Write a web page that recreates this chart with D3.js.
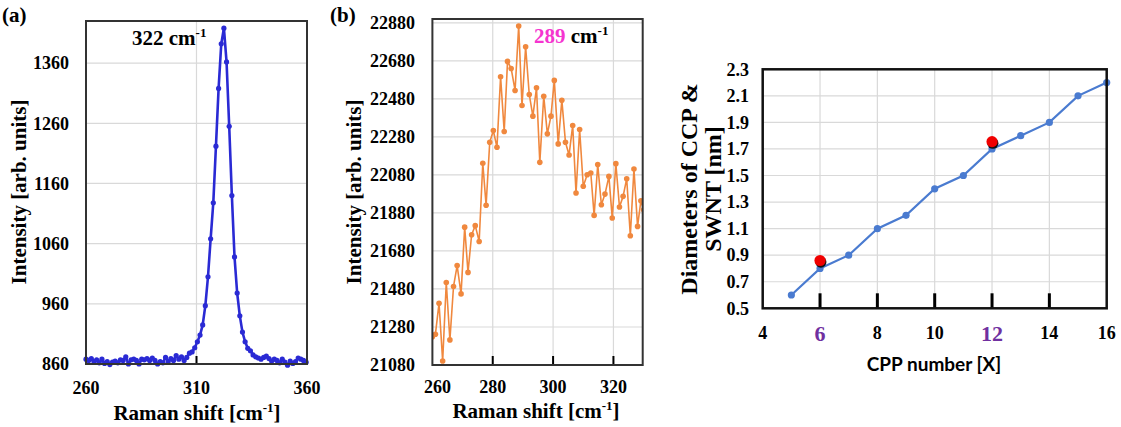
<!DOCTYPE html>
<html><head><meta charset="utf-8">
<script src="https://cdn.jsdelivr.net/npm/d3@7"></script>
<style>body{margin:0;background:#fff}svg{display:block}</style>
</head><body>
<svg id="c" width="1121" height="427"></svg>
<script>
// ---------- Panel (a) data ----------
const shiftA = [260.0,261.2,262.4,263.6,264.8,266.0,267.2,268.4,269.6,270.8,272.0,273.2,274.4,275.6,276.8,278.0,279.2,280.4,281.6,282.8,284.0,285.2,286.4,287.6,288.8,290.0,291.2,292.4,293.6,294.8,296.0,297.2,298.4,299.6,300.8,302.0,303.2,304.4,305.6,306.8,308.0,309.2,310.4,311.6,312.8,314.0,315.2,316.4,317.6,318.8,320.0,321.2,322.4,323.6,324.8,326.0,327.2,328.4,329.6,330.8,332.0,333.2,334.4,335.6,336.8,338.0,339.2,340.4,341.6,342.8,344.0,345.2,346.4,347.6,348.8,350.0,351.2,352.4,353.6,354.8,356.0,357.2,358.4,359.6];
const intensityA = [868,866,869,864,867,862,868,861,864,859,863,865,862,867,866,872,860,867,868,866,860,868,867,869,866,870,866,860,864,862,871,864,869,866,874,868,872,866,871,878,880,887,897,908,925,957,1005,1068,1128,1222,1318,1392,1418,1362,1255,1140,1038,978,940,913,897,886,882,875,872,870,868,871,873,869,865,868,866,862,868,863,858,865,861,864,870,868,866,863];
const yTicksA = [860,960,1060,1160,1260,1360];
const xTicksA = [260,310,360];

// ---------- Panel (b) data ----------
const shiftB = [260.0,261.0,262.2,263.4,264.6,265.8,267.0,268.2,269.5,270.7,271.8,273.0,274.2,275.5,276.7,277.8,279.0,280.2,281.4,282.6,283.8,284.9,286.1,287.4,288.6,289.7,290.9,292.1,293.3,294.5,295.6,296.9,298.1,299.3,300.4,301.7,302.9,304.1,305.3,306.5,307.6,308.8,310.0,311.3,312.5,313.6,314.8,316.0,317.2,318.5,319.6,320.8,322.0,323.2,324.4,325.6,326.8,328.0,329.1,330.0];
const intensityB = [21229,21242,21405,21101,21514,21212,21493,21603,21454,21805,21567,21765,21813,21730,22141,21920,22252,22313,22225,22596,22308,22677,22640,22524,22863,22445,22754,22503,22389,22538,22146,22494,22296,22389,22577,22243,22473,22252,22185,22340,21985,22319,22020,22081,22090,21867,22134,21923,21979,22072,21853,22139,21911,21967,22060,21760,22111,21809,21944,21897];
const yTicksB = [21080,21280,21480,21680,21880,22080,22280,22480,22680,22880];
const xTicksB = [260,280,300,320];

// ---------- Panel (c) data ----------
const cppNumber = [5,6,7,8,9,10,11,12,13,14,15,16];
const diameter = [0.6,0.8,0.9,1.1,1.2,1.4,1.5,1.7,1.8,1.9,2.1,2.2];
const highlightX = [6,12];
const highlightY = [0.86,1.755];
const yTicksC = [0.5,0.7,0.9,1.1,1.3,1.5,1.7,1.9,2.1,2.3];
const xTicksC = [4,6,8,10,12,14,16];

const svg = d3.select('#c');
const SERIF = "'Liberation Serif','Times New Roman',serif";
const GRID = '#d9d9d9';

function panel(o){
  const g = svg.append('g');
  const x = d3.scaleLinear().domain(o.xd).range([o.x0,o.x1]);
  const y = d3.scaleLinear().domain(o.yd).range([o.y1,o.y0]);
  g.append('g').selectAll('line').data(o.yTicks).join('line')
    .attr('x1',o.x0).attr('x2',o.x1).attr('y1',d=>y(d)).attr('y2',d=>y(d))
    .attr('stroke',GRID).attr('stroke-width',1.2);
  g.append('g').selectAll('line').data(o.vGrid).join('line')
    .attr('y1',o.y0).attr('y2',o.y1).attr('x1',d=>x(d)).attr('x2',d=>x(d))
    .attr('stroke',GRID).attr('stroke-width',1.2);
  return {g,x,y};
}

// ===== Panel (a) =====
{
  const o = {x0:86,x1:307,y0:21,y1:364,xd:[260,360],yd:[860,1430],yTicks:yTicksA,vGrid:[310]};
  const {g,x,y} = panel(o);
  svg.append('clipPath').attr('id','clipA').append('rect')
    .attr('x',o.x0-4).attr('y',o.y0).attr('width',o.x1-o.x0+8).attr('height',o.y1-o.y0+4);
  const pts = shiftA.map((d,i)=>[d,intensityA[i]]);
  const dg = g.append('g').attr('clip-path','url(#clipA)');
  dg.append('path').attr('d',d3.line().x(d=>x(d[0])).y(d=>y(d[1]))(pts))
    .attr('fill','none').attr('stroke','#2a2ad4').attr('stroke-width',2.6).attr('stroke-linejoin','round');
  dg.selectAll('circle').data(pts).join('circle')
    .attr('cx',d=>x(d[0])).attr('cy',d=>y(d[1])).attr('r',2.6).attr('fill','#2a2ad4');
  g.append('line').attr('x1',x(310)).attr('x2',x(310)).attr('y1',o.y1).attr('y2',o.y1-8)
    .attr('stroke','#000').attr('stroke-width',2);
  g.append('rect').attr('x',o.x0).attr('y',o.y0).attr('width',o.x1-o.x0).attr('height',o.y1-o.y0)
    .attr('fill','none').attr('stroke','#333').attr('stroke-width',2);
  g.append('g').selectAll('text').data(yTicksA).join('text')
    .attr('x',69).attr('y',d=>y(d)).attr('dy','0.35em').attr('text-anchor','end')
    .attr('font-family',SERIF).attr('font-weight','bold').attr('font-size',18).text(d=>d);
  g.append('g').selectAll('text').data(xTicksA).join('text')
    .attr('x',d=>x(d)).attr('y',394).attr('text-anchor','middle')
    .attr('font-family',SERIF).attr('font-weight','bold').attr('font-size',18).text(d=>d);
  const xt = g.append('text').attr('x',197).attr('y',420).attr('text-anchor','middle')
    .attr('font-family',SERIF).attr('font-weight','bold').attr('font-size',21);
  xt.append('tspan').text('Raman shift [cm');
  xt.append('tspan').attr('dy',-8).attr('font-size',13).text('-1');
  xt.append('tspan').attr('dy',8).text(']');
  g.append('text').attr('transform','translate(26,192) rotate(-90)').attr('text-anchor','middle')
    .attr('font-family',SERIF).attr('font-weight','bold').attr('font-size',21).text('Intensity [arb. units]');
  g.append('text').attr('x',2).attr('y',22).attr('font-family',SERIF).attr('font-weight','bold')
    .attr('font-size',21).text('(a)');
  const an = g.append('text').attr('x',132).attr('y',45).attr('font-family',SERIF).attr('font-weight','bold').attr('font-size',21);
  an.append('tspan').text('322 cm');
  an.append('tspan').attr('dy',-8).attr('font-size',13).text('-1');
}

// ===== Panel (b) =====
{
  const o = {x0:432.4,x1:642.7,y0:19,y1:365,xd:[260,329.7],yd:[21080,22900],yTicks:yTicksB,vGrid:[280,300,320]};
  const {g,x,y} = panel(o);
  svg.append('clipPath').attr('id','clipB').append('rect')
    .attr('x',o.x0).attr('y',o.y0).attr('width',o.x1-o.x0).attr('height',o.y1-o.y0);
  const pts = shiftB.map((d,i)=>[d,intensityB[i]]);
  const dg = g.append('g').attr('clip-path','url(#clipB)');
  dg.append('path').attr('d',d3.line().x(d=>x(d[0])).y(d=>y(d[1]))(pts))
    .attr('fill','none').attr('stroke','#f0883e').attr('stroke-width',1.6).attr('stroke-linejoin','round');
  dg.selectAll('circle').data(pts).join('circle')
    .attr('cx',d=>x(d[0])).attr('cy',d=>y(d[1])).attr('r',2.8).attr('fill','#f0883e');
  g.append('g').selectAll('line').data([280,300,320]).join('line')
    .attr('x1',d=>x(d)).attr('x2',d=>x(d)).attr('y1',o.y1).attr('y2',o.y1-9)
    .attr('stroke','#000').attr('stroke-width',2);
  g.append('rect').attr('x',o.x0).attr('y',o.y0).attr('width',o.x1-o.x0).attr('height',o.y1-o.y0)
    .attr('fill','none').attr('stroke','#333').attr('stroke-width',2);
  g.append('g').selectAll('text').data(yTicksB).join('text')
    .attr('x',415).attr('y',d=>y(d)).attr('dy','0.35em').attr('text-anchor','end')
    .attr('font-family',SERIF).attr('font-weight','bold').attr('font-size',18).text(d=>d);
  g.append('g').selectAll('text').data(xTicksB).join('text')
    .attr('x',d=>x(d)+(d===260?5:0)).attr('y',393).attr('text-anchor','middle')
    .attr('font-family',SERIF).attr('font-weight','bold').attr('font-size',18).text(d=>d);
  const xt = g.append('text').attr('x',536).attr('y',418).attr('text-anchor','middle')
    .attr('font-family',SERIF).attr('font-weight','bold').attr('font-size',21);
  xt.append('tspan').text('Raman shift [cm');
  xt.append('tspan').attr('dy',-8).attr('font-size',13).text('-1');
  xt.append('tspan').attr('dy',8).text(']');
  g.append('text').attr('transform','translate(361,192) rotate(-90)').attr('text-anchor','middle')
    .attr('font-family',SERIF).attr('font-weight','bold').attr('font-size',21).text('Intensity [arb. units]');
  g.append('text').attr('x',330).attr('y',22).attr('font-family',SERIF).attr('font-weight','bold')
    .attr('font-size',21).text('(b)');
  const an = g.append('text').attr('x',534).attr('y',43).attr('font-family',SERIF).attr('font-weight','bold').attr('font-size',21);
  an.append('tspan').attr('fill','#f535d0').text('289');
  an.append('tspan').text(' cm');
  an.append('tspan').attr('dy',-8).attr('font-size',13).text('-1');
}

// ===== Panel (c) =====
{
  const o = {x0:762.7,x1:1106.7,y0:69.3,y1:308.3,xd:[4,16],yd:[0.5,2.3],yTicks:yTicksC,vGrid:[6,8,10,12,14]};
  const {g,x,y} = panel(o);
  const blue = '#4a7bd0';
  const pts = cppNumber.map((d,i)=>[d,diameter[i]]);
  g.append('path').attr('d',d3.line().x(d=>x(d[0])).y(d=>y(d[1]))(pts))
    .attr('fill','none').attr('stroke',blue).attr('stroke-width',2.2);
  g.selectAll('circle.p').data(pts).join('circle').attr('class','p')
    .attr('cx',d=>x(d[0])).attr('cy',d=>y(d[1])).attr('r',3.6).attr('fill',blue);
  const hp = highlightX.map((d,i)=>[d,highlightY[i]]);
  g.selectAll('circle.s').data(hp).join('circle').attr('class','s')
    .attr('cx',d=>x(d[0])+0.8).attr('cy',d=>y(d[1])+1.6).attr('r',5.6).attr('fill','#111');
  g.selectAll('circle.h').data(hp).join('circle').attr('class','h')
    .attr('cx',d=>x(d[0])).attr('cy',d=>y(d[1])).attr('r',5.6).attr('fill','#f00000');
  g.append('g').selectAll('line').data([6,8,10,12,14]).join('line')
    .attr('x1',d=>x(d)).attr('x2',d=>x(d)).attr('y1',o.y1).attr('y2',o.y1-15)
    .attr('stroke','#000').attr('stroke-width',3);
  g.append('rect').attr('x',o.x0).attr('y',o.y0).attr('width',o.x1-o.x0).attr('height',o.y1-o.y0)
    .attr('fill','none').attr('stroke','#111').attr('stroke-width',2.5);
  g.append('g').selectAll('text').data(yTicksC).join('text')
    .attr('x',749).attr('y',d=>y(d)).attr('dy','0.35em').attr('text-anchor','end')
    .attr('font-family',SERIF).attr('font-weight','bold').attr('font-size',18).text(d=>d.toFixed(1));
  g.append('g').selectAll('text').data(xTicksC).join('text')
    .attr('x',d=>x(d)).attr('y',d=>highlightX.includes(d)?341:339).attr('text-anchor','middle')
    .attr('font-family',SERIF).attr('font-weight','bold')
    .attr('font-size',d=>highlightX.includes(d)?22:18)
    .attr('fill',d=>highlightX.includes(d)?'#7030a0':'#000').text(d=>d);
  g.append('text').attr('x',934).attr('y',371).attr('text-anchor','middle')
    .attr('font-family',"Lato,'Open Sans',sans-serif").attr('font-weight','bold').attr('font-size',19)
    .text('CPP number [X]');
  g.append('text').attr('transform','translate(697,189) rotate(-90)').attr('text-anchor','middle')
    .attr('font-family',SERIF).attr('font-weight','bold').attr('font-size',24).text('Diameters of CCP &');
  g.append('text').attr('transform','translate(721,189) rotate(-90)').attr('text-anchor','middle')
    .attr('font-family',SERIF).attr('font-weight','bold').attr('font-size',24).text('SWNT [nm]');
}
</script>
</body></html>
